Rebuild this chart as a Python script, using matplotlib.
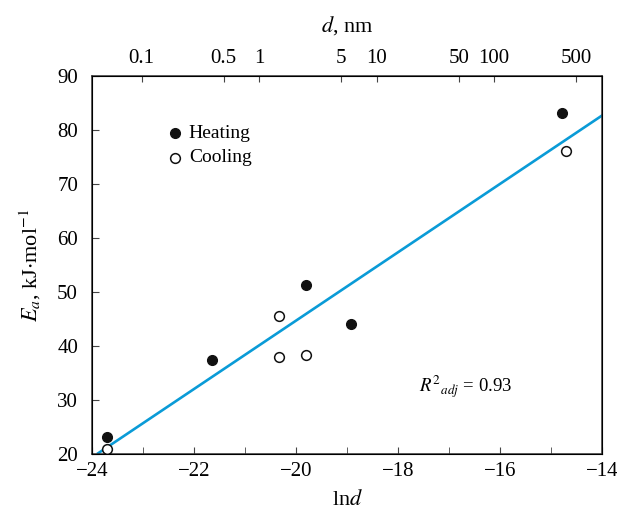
import numpy as np
from matplotlib import pyplot as plt

plt.rcParams['font.family'] = ['Liberation Serif', 'DejaVu Serif']
plt.rcParams['mathtext.fontset'] = 'stix'

# данные (ln d, Ea)
heat_x = [-23.71, -21.64, -19.80, -18.93, -14.79]
heat_y = [23.1, 37.5, 51.3, 44.0, 83.1]
cool_x = [-23.71, -20.33, -20.33, -19.81, -14.71]
cool_y = [20.9, 45.6, 38.0, 38.3, 76.1]

# линейная аппроксимация
fit_k = 6.33
fit_b = 171.3
fit_x = [-23.88, -14.0]

# верхняя ось: d, нм
top_d = [0.1, 0.5, 1, 5, 10, 50, 100, 500]
top_labels = ['0.1', '0.5', '1', '5', '10', '50', '100', '500']

fig = plt.figure(figsize=(6.17, 5.16), dpi=100)
ax = fig.add_axes([0.149, 0.120, 0.827, 0.733])

fx = np.array(fit_x)
ax.plot(fx, fit_k * fx + fit_b, color='#0A9BD7', linewidth=1.9, zorder=2)
ax.plot(heat_x, heat_y, 'o', color='#111111', markersize=7, zorder=3)
ax.plot(cool_x, cool_y, 'o', markerfacecolor='white', markeredgecolor='#111111',
        markeredgewidth=1.1, markersize=7, zorder=3)

# легенда вручную
ax.plot([-22.37], [79.4], 'o', color='#111111', markersize=7)
ax.plot([-22.37], [74.8], 'o', markerfacecolor='white', markeredgecolor='#111111',
        markeredgewidth=1.1, markersize=7)
ax.text(-22.1, 79.4, 'Heating', fontsize=14, va='center', ha='left')
ax.text(-22.1, 74.8, 'Cooling', fontsize=14, va='center', ha='left')

ax.text(-16.67, 32.4, r'$R^{2}{}_{adj}$ = 0.93', fontsize=13.5, ha='center', va='center')

ax.set_xlim(-24, -14)
ax.set_ylim(20, 90)
ax.set_xticks([-24, -22, -20, -18, -16, -14])
ax.set_xticklabels(['\u221224', '\u221222', '\u221220', '\u221218', '\u221216', '\u221214'])
ax.set_xticks(np.arange(-23, -14, 2), minor=True)
ax.set_yticks(np.arange(20, 91, 10))
ax.tick_params(axis='both', which='both', direction='in', labelsize=15, color='#444444')
ax.tick_params(axis='x', which='major', length=5, pad=6)
ax.tick_params(axis='x', which='minor', length=5)
ax.tick_params(axis='y', length=5, pad=10)
for s in ax.spines.values():
    s.set_color('#333333')
    s.set_linewidth(1.1)

ax.set_xlabel(r'ln$\mathit{d}$', fontsize=16, labelpad=6)
ax.set_ylabel(r'$E_a$, kJ$\cdot$mol$^{-1}$', fontsize=16, labelpad=10)

ax2 = ax.twiny()
ax2.set_xlim(ax.get_xlim())
ax2.set_xticks(np.log(np.array(top_d) * 1e-9))
ax2.set_xticklabels(top_labels)
ax2.tick_params(axis='x', direction='in', length=4, labelsize=15, pad=6, color='#444444')
ax2.set_xlabel(r'$d$, nm', fontsize=16, labelpad=12)

fig.savefig('out.png', dpi=100)
